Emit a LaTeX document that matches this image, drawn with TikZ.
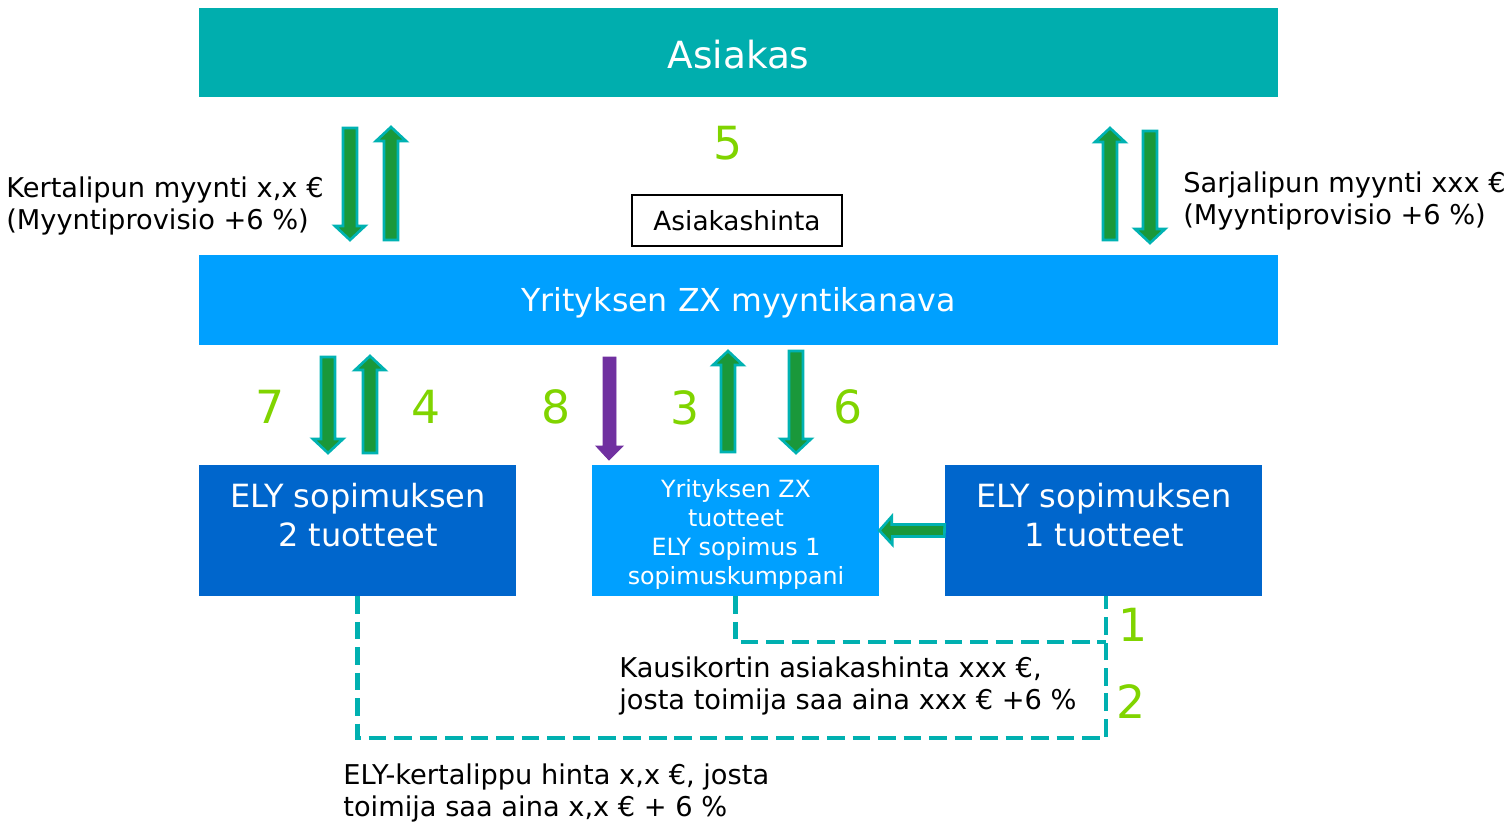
\documentclass[tikz,border=0pt]{standalone}
\usepackage{fontspec}
\setmainfont{DejaVu Sans}
\definecolor{asiakas}{RGB}{0,174,174}
\definecolor{kanava}{RGB}{0,160,255}
\definecolor{ely}{RGB}{0,102,204}
\definecolor{arrowfill}{RGB}{26,152,58}
\definecolor{arrowedge}{RGB}{0,178,178}
\definecolor{purplearrow}{RGB}{112,48,160}
\definecolor{numgreen}{RGB}{128,212,0}
\definecolor{dashteal}{RGB}{0,176,176}
\tikzset{
  box/.style={rectangle, inner sep=0pt, text=white, align=center},
  boxtext/.style={inner sep=0pt, text=white, align=center},
  num/.style={text=numgreen, font=\fontsize{26}{30}\selectfont, inner sep=0pt},
  lbl/.style={align=left, anchor=west, inner sep=0pt, font=\fontsize{15.5}{18.3}\selectfont},
  dashline/.style={draw=dashteal, line width=2.3pt, dash pattern=on 10pt off 4.5pt},
}
% vertical block arrow: {fill}{edge}{x}{tail y}{head y}
\newcommand{\blkV}[5]{%
  \pgfmathsetmacro\bdir{(#5>#4)?1:-1}%
  \pgfmathsetmacro\bhb{#5-\bdir*14}%
  \draw[fill=#1, draw=#2, line width=1.5pt, line join=miter]
    (#3-7,#4) -- (#3-7,\bhb) -- (#3-15,\bhb) -- (#3,#5) -- (#3+15,\bhb) -- (#3+7,\bhb) -- (#3+7,#4) -- cycle;}
\begin{document}
\begin{tikzpicture}[x=0.02cm, y=-0.02cm]
\useasboundingbox (0,0) rectangle (1508,823);
% boxes
\node[box, fill=asiakas, minimum width=21.58cm, minimum height=1.78cm] (asiakas) at (738.5,52.5) {};
\node[boxtext, font=\fontsize{21.3}{25}\selectfont] (asiakast) at (738.5,55) {Asiakas};
\node[box, fill=kanava, minimum width=21.58cm, minimum height=1.8cm] (kanava) at (738.5,300) {};
\node[boxtext, font=\fontsize{18}{22}\selectfont] (kanavat) at (738.5,303) {Yrityksen ZX myyntikanava};
\node[box, fill=ely, minimum width=6.34cm, minimum height=2.62cm] (ely2) at (357.5,530.5) {};
\node[boxtext, font=\fontsize{18.2}{22.2}\selectfont] (ely2t) at (358,515) {ELY sopimuksen\\2 tuotteet};
\node[box, fill=kanava, minimum width=5.74cm, minimum height=2.62cm] (zx) at (735.5,530.5) {};
\node[boxtext, font=\fontsize{13.5}{16.5}\selectfont] (zxt) at (736,534) {Yrityksen ZX\\tuotteet\\ELY sopimus 1\\sopimuskumppani};
\node[box, fill=ely, minimum width=6.34cm, minimum height=2.62cm] (ely1) at (1103.5,530.5) {};
\node[boxtext, font=\fontsize{18.2}{22.2}\selectfont] (ely1t) at (1104,515) {ELY sopimuksen\\1 tuotteet};
\node[rectangle, draw=black, line width=0.8pt, minimum width=4.2cm, minimum height=1.02cm, inner sep=0pt, font=\fontsize{15}{18}\selectfont] (hinta) at (737,220.5) {Asiakashinta};
% numbers
\node[num] (n5) at (728,143) {5};
\node[num] (n7) at (270,407) {7};
\node[num] (n4) at (426,407) {4};
\node[num] (n8) at (556,407) {8};
\node[num] (n3) at (685,408) {3};
\node[num] (n6) at (848,407) {6};
\node[num] (n1) at (1133,625) {1};
\node[num] (n2) at (1131,702) {2};
% labels
\node[lbl] (lk) at (6,206) {Kertalipun myynti x,x €\\(Myyntiprovisio +6 \%)};
\node[lbl] (ls) at (1183,201) {Sarjalipun myynti xxx €\\(Myyntiprovisio +6 \%)};
\node[lbl] (lkausi) at (619,686) {Kausikortin asiakashinta xxx €,\\josta toimija saa aina xxx € +6 \%};
\node[lbl] (lely) at (343,793) {ELY-kertalippu hinta x,x €, josta\\toimija saa aina x,x € + 6 \%};
% block arrows top
\blkV{arrowfill}{arrowedge}{350}{128}{240}
\blkV{arrowfill}{arrowedge}{391}{240}{127}
\blkV{arrowfill}{arrowedge}{1110}{240}{128}
\blkV{arrowfill}{arrowedge}{1150}{131}{243}
% block arrows middle
\blkV{arrowfill}{arrowedge}{328}{357}{453}
\blkV{arrowfill}{arrowedge}{370}{453}{356}
\blkV{arrowfill}{arrowedge}{728}{452}{351}
\blkV{arrowfill}{arrowedge}{796}{351}{453}
\draw[fill=purplearrow, draw=purplearrow, line width=0.5pt]
  (603,357) -- (603,446) -- (596,446) -- (609,460) -- (623,446) -- (616,446) -- (616,357) -- cycle;
% horizontal arrow ely1 -> zx
\draw[fill=arrowfill, draw=arrowedge, line width=1.5pt, line join=miter]
  (ely1.west) ++(0,-6) -- ++(-53,0) -- ++(0,-8) -- (zx.east) -- ++(13,14) -- ++(0,-8) -- ++(52,0) -- cycle;
% dashed connectors
\draw[dashline] (ely2.south) |- (1106,738) -- (1106,596);
\draw[dashline] (zx.south) |- (1106,642);
\end{tikzpicture}
\end{document}
